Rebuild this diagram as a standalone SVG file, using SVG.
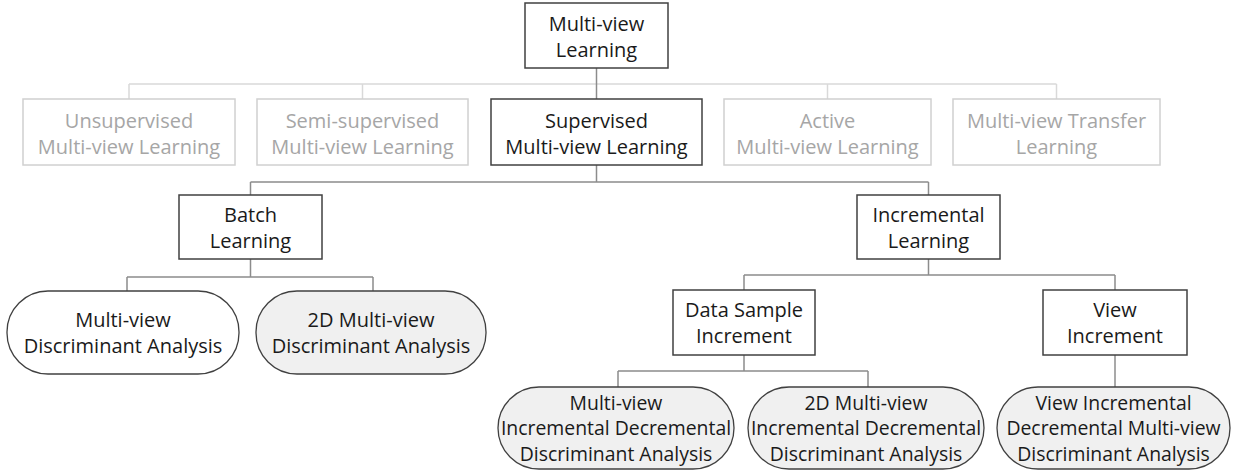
<svg xmlns="http://www.w3.org/2000/svg" width="1233" height="471" viewBox="0 0 1233 471">
<style>
.box{fill:#ffffff;stroke:#404040;stroke-width:1.5}
.lbox{fill:#ffffff;stroke:#d0d0d0;stroke-width:1.5}
.pill{fill:#ffffff;stroke:#404040;stroke-width:1.3}
.gpill{fill:#f0f0f0;stroke:#404040;stroke-width:1.3}
text{font-family:"Open Sans","Liberation Sans",sans-serif;font-size:20px;fill:#1a1a1a;text-anchor:middle}
.sm{font-size:19.4px}
.lt{fill:#a6a6a6}
.c{fill:none;stroke:#8c8c8c;stroke-width:1.5}
.lc{fill:none;stroke:#d9d9d9;stroke-width:1.5}
</style>
<rect width="1233" height="471" fill="#ffffff"/>
<g id="connectors">
<path class="lc" d="M129 84H1056.5M129 84V99M362.5 84V99M827.5 84V99M1056.5 84V99"/>
<path class="c" d="M596.5 68V99"/>
<path class="c" d="M596.5 165V182M250.5 182H928.5M250.5 182V195M928.5 182V195"/>
<path class="c" d="M250.5 259V277M127 277H373M127 277V291M373 277V291"/>
<path class="c" d="M928.5 259V275M744 275H1115M744 275V290M1115 275V290"/>
<path class="c" d="M744 355V371M618 371H868M618 371V387M868 371V387"/>
<path class="c" d="M1115 355V387"/>
</g>
<g id="root">
<rect class="box" x="525" y="3" width="143" height="65"/>
<text x="596.5" y="31">Multi-view</text><text x="596.5" y="57">Learning</text>
</g>
<g id="unsupervised">
<rect class="lbox" x="23" y="99" width="212" height="66"/>
<text class="lt" x="129" y="127.5">Unsupervised</text><text class="lt" x="129" y="153.5">Multi-view Learning</text>
</g>
<g id="semisupervised">
<rect class="lbox" x="257" y="99" width="211" height="66"/>
<text class="lt" x="362.5" y="127.5">Semi-supervised</text><text class="lt" x="362.5" y="153.5">Multi-view Learning</text>
</g>
<g id="supervised">
<rect class="box" x="491" y="99" width="211" height="66"/>
<text x="596.5" y="127.5">Supervised</text><text x="596.5" y="153.5">Multi-view Learning</text>
</g>
<g id="active">
<rect class="lbox" x="724" y="99" width="207" height="66"/>
<text class="lt" x="827.5" y="127.5">Active</text><text class="lt" x="827.5" y="153.5">Multi-view Learning</text>
</g>
<g id="transfer">
<rect class="lbox" x="953" y="99" width="207" height="66"/>
<text class="lt" x="1056.5" y="127.5">Multi-view Transfer</text><text class="lt" x="1056.5" y="153.5">Learning</text>
</g>
<g id="batch">
<rect class="box" x="179" y="195" width="143" height="64"/>
<text x="250.5" y="222">Batch</text><text x="250.5" y="248">Learning</text>
</g>
<g id="incremental">
<rect class="box" x="857" y="195" width="143" height="64"/>
<text x="928.5" y="222">Incremental</text><text x="928.5" y="248">Learning</text>
</g>
<g id="mvda">
<rect class="pill" x="7" y="291" width="232" height="83" rx="41" ry="41"/>
<text x="123" y="327">Multi-view</text><text x="123" y="352.5">Discriminant Analysis</text>
</g>
<g id="mvda2d">
<rect class="gpill" x="256" y="291" width="230" height="83" rx="41" ry="41"/>
<text x="371" y="327">2D Multi-view</text><text x="371" y="352.5">Discriminant Analysis</text>
</g>
<g id="datasample">
<rect class="box" x="673" y="290" width="142" height="65"/>
<text x="744" y="317">Data Sample</text><text x="744" y="343">Increment</text>
</g>
<g id="viewincrement">
<rect class="box" x="1043" y="290" width="144" height="65"/>
<text x="1115" y="317">View</text><text x="1115" y="343">Increment</text>
</g>
<g id="mviddda">
<rect class="gpill" x="498" y="387" width="236" height="82" rx="41" ry="41"/>
<text class="sm" x="616" y="409.5">Multi-view</text><text class="sm" x="616" y="435">Incremental Decremental</text><text class="sm" x="616" y="460.5">Discriminant Analysis</text>
</g>
<g id="mviddda2d">
<rect class="gpill" x="748" y="387" width="236" height="82" rx="41" ry="41"/>
<text class="sm" x="866" y="409.5">2D Multi-view</text><text class="sm" x="866" y="435">Incremental Decremental</text><text class="sm" x="866" y="460.5">Discriminant Analysis</text>
</g>
<g id="vidmvda">
<rect class="gpill" x="997" y="387" width="233" height="82" rx="41" ry="41"/>
<text class="sm" x="1113.5" y="409.5">View Incremental</text><text class="sm" x="1113.5" y="435">Decremental Multi-view</text><text class="sm" x="1113.5" y="460.5">Discriminant Analysis</text>
</g>
</svg>
